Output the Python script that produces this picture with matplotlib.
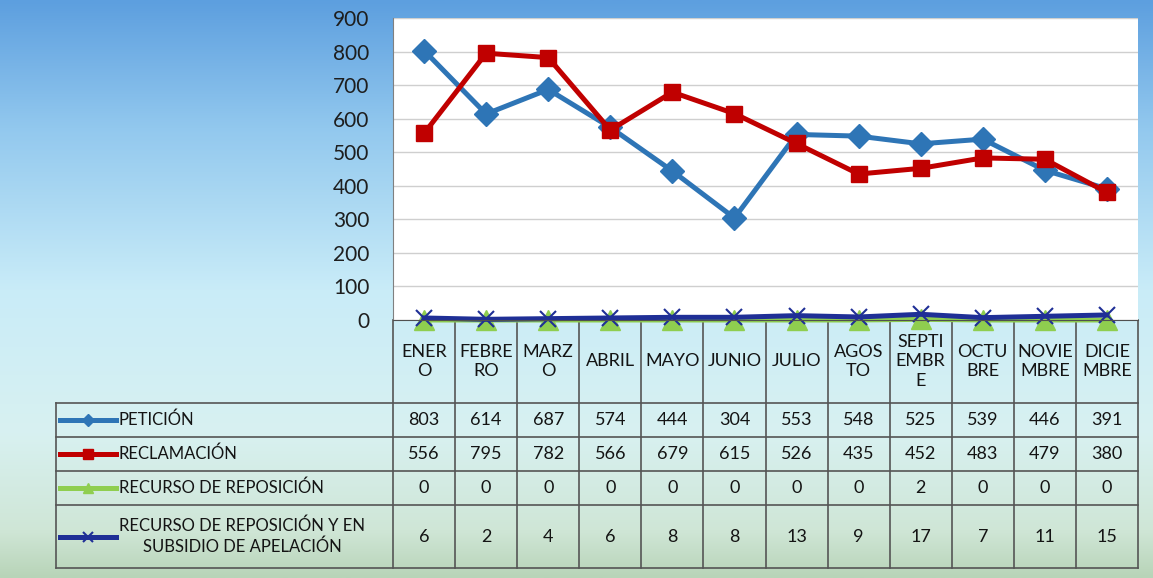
import numpy as np
import matplotlib.pyplot as plt
from matplotlib.colors import LinearSegmentedColormap

plt.rcParams['font.family'] = ['Lato', 'DejaVu Sans']

# ---------------------------------------------------------------
# datos
# ---------------------------------------------------------------
meses = ['ENER\nO', 'FEBRE\nRO', 'MARZ\nO', 'ABRIL', 'MAYO', 'JUNIO', 'JULIO',
         'AGOS\nTO', 'SEPTI\nEMBR\nE', 'OCTU\nBRE', 'NOVIE\nMBRE', 'DICIE\nMBRE']
peticion = [803, 614, 687, 574, 444, 304, 553, 548, 525, 539, 446, 391]
reclamacion = [556, 795, 782, 566, 679, 615, 526, 435, 452, 483, 479, 380]
reposicion = [0, 0, 0, 0, 0, 0, 0, 0, 2, 0, 0, 0]
apelacion = [6, 2, 4, 6, 8, 8, 13, 9, 17, 7, 11, 15]
nombres = ['PETICIÓN', 'RECLAMACIÓN', 'RECURSO DE REPOSICIÓN',
           'RECURSO DE REPOSICIÓN Y EN\nSUBSIDIO DE APELACIÓN']
yticks = [0, 100, 200, 300, 400, 500, 600, 700, 800, 900]

series = [peticion, reclamacion, reposicion, apelacion]
estilos = [
    dict(color='#2e75b6', marker='D', ms=12),
    dict(color='#c00000', marker='s', ms=12),
    dict(color='#8fce4f', marker='^', ms=14),
    dict(color='#1f2f96', marker='x', ms=12, mew=1.5),
]

# ---------------------------------------------------------------
# figura y fondo degradado
# ---------------------------------------------------------------
W, H = 1153, 578
fig = plt.figure(figsize=(W / 100, H / 100), dpi=100)

bg = fig.add_axes([0, 0, 1, 1], zorder=0)
cmap = LinearSegmentedColormap.from_list(
    'fondo', [(0, '#5d9fdf'), (0.22, '#92c8ee'), (0.5, '#c9ecf8'),
              (0.75, '#d8f1f1'), (0.92, '#cfe6d6'), (1, '#b8d4b8')])
grad = np.linspace(0, 1, 256).reshape(-1, 1)
bg.imshow(grad, aspect='auto', cmap=cmap, extent=[0, W, H, 0])
bg.set_xlim(0, W)
bg.set_ylim(H, 0)
bg.axis('off')

# ---------------------------------------------------------------
# area del grafico
# ---------------------------------------------------------------
x0, x1, ytop, ybot = 393, 1138, 18, 320
ax = fig.add_axes([x0 / W, 1 - ybot / H, (x1 - x0) / W, (ybot - ytop) / H], zorder=2)
ax.set_facecolor('white')
x = np.arange(len(meses))
for vals, st in zip(series, estilos):
    ax.plot(x, vals, lw=3.6, clip_on=False, **st)
ax.set_xlim(-0.5, len(meses) - 0.5)
ax.set_ylim(0, 900)
ax.set_yticks(yticks)
ax.set_xticks([])
ax.tick_params(axis='y', labelsize=15, colors='#1e1e1e', length=0, pad=17)
ax.grid(axis='y', color='#cfcfcf', lw=1)
ax.set_axisbelow(True)
for s in ['top', 'right']:
    ax.spines[s].set_visible(False)
ax.spines['left'].set_color('#808080')
ax.spines['bottom'].set_color('#505050')

# ---------------------------------------------------------------
# tabla de datos
# ---------------------------------------------------------------
tb = fig.add_axes([0, 0, 1, 1], zorder=1)
tb.set_xlim(0, W)
tb.set_ylim(H, 0)
tb.axis('off')

xl = 56
filas = [403, 437, 471, 505, 568]
colw = (x1 - x0) / len(meses)
lc = '#555555'

for yy in filas:
    tb.plot([xl, x1], [yy, yy], color=lc, lw=1.2)
tb.plot([xl, xl], [filas[0], filas[-1]], color=lc, lw=1.2)
for i in range(len(meses) + 1):
    xx = x0 + i * colw
    tb.plot([xx, xx], [ybot, filas[-1]], color=lc, lw=1.2)

for i, m in enumerate(meses):
    tb.text(x0 + (i + 0.5) * colw, (ybot + filas[0]) / 2, m, ha='center',
            va='center', fontsize=13, color='#141414', linespacing=1.25)

for r, (vals, st, nom) in enumerate(zip(series, estilos, nombres)):
    yc = (filas[r] + filas[r + 1]) / 2
    for i, v in enumerate(vals):
        tb.text(x0 + (i + 0.5) * colw, yc, str(v), ha='center', va='center',
                fontsize=13, color='#141414')
    tb.plot([60, 116], [yc, yc], color=st['color'], lw=3.6)
    tb.plot([88], [yc], color=st['color'], marker=st['marker'],
            ms=st['ms'] * 0.55, mew=st.get('mew', 1))
    tb.text(119, yc, nom, ha='left', va='center', fontsize=12,
            color='#141414', multialignment='center', linespacing=1.35)

fig.savefig('out.png', dpi=100)
